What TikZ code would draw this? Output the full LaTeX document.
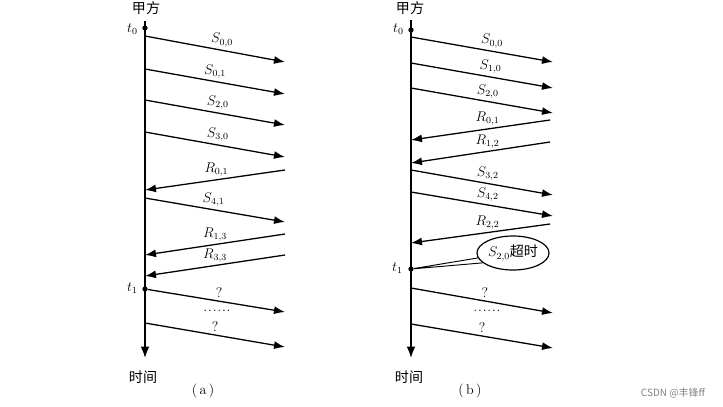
\documentclass[tikz,border=0pt]{standalone}
\usepackage{fontspec}
\newfontfamily\cjk{Noto Sans CJK SC}
\usetikzlibrary{arrows.meta,shapes.geometric}
\tikzset{
  msg/.style={line width=1.1pt, -{Latex[length=3.3mm,width=2.4mm]}},
  axis/.style={line width=1.3pt, -{Latex[length=3.4mm,width=2.6mm]}},
  lbl/.style={above=-1pt, font=\fontsize{12}{14}\selectfont},
  tick/.style={circle, fill, inner sep=0pt, minimum size=4.5pt},
  word/.style={font=\fontsize{12}{14}\selectfont\cjk},
  dotrow/.style={inner sep=0pt, font=\fontsize{12}{14}\selectfont},
}
\newcommand\sixdots{.\kern.7pt.\kern.7pt.\kern.7pt.\kern.7pt.\kern.7pt.}
\begin{document}
\begin{tikzpicture}[x=0.03cm,y=-0.03cm]
\useasboundingbox (0,0) rectangle (723,406);
% (a)
\coordinate (atop) at (145,21); \coordinate (abot) at (145,358);
\draw[axis] (atop)--(abot);
\node[tick] (at0) at (145,28) {};
\node[tick] (at1) at (145,289) {};
\node[lbl, left, inner sep=1pt] (lt0a) at (139,28) {$t_0$};
\node[lbl, left, inner sep=1pt] (lt1a) at (139,287) {$t_1$};
\node[word] (jfa) at (146,8) {甲方};
\node[word] (sja) at (143,377) {时间};
\node[font=\fontsize{12}{14}\selectfont] (capa) at (203,391) {(\,a\,)};
\coordinate (a1) at (145,36);  \coordinate (b1) at (285,62);
\coordinate (a2) at (145,69);  \coordinate (b2) at (285,94);
\coordinate (a3) at (145,100); \coordinate (b3) at (285,125);
\coordinate (a4) at (145,132); \coordinate (b4) at (285,157);
\coordinate (a5) at (285,170); \coordinate (b5) at (145,190);
\coordinate (a6) at (145,198); \coordinate (b6) at (285,222);
\coordinate (a7) at (285,234); \coordinate (b7) at (145,255);
\coordinate (a8) at (285,255); \coordinate (b8) at (145,276);
\coordinate (b9) at (285,312);
\coordinate (a10) at (145,323); \coordinate (b10) at (285,347);
\draw[msg] (a1)--node[lbl,pos=.55]{$S_{0,0}$}(b1);
\draw[msg] (a2)--node[lbl,pos=.5]{$S_{0,1}$}(b2);
\draw[msg] (a3)--node[lbl,pos=.52]{$S_{2,0}$}(b3);
\draw[msg] (a4)--node[lbl,pos=.52]{$S_{3,0}$}(b4);
\draw[msg] (a5)--node[lbl,pos=.49]{$R_{0,1}$}(b5);
\draw[msg] (a6)--node[lbl,pos=.49]{$S_{4,1}$}(b6);
\draw[msg] (a7)--node[lbl,pos=.5]{$R_{1,3}$}(b7);
\draw[msg] (a8)--node[lbl,pos=.5]{$R_{3,3}$}(b8);
\draw[msg] (at1)--node[lbl,pos=.52]{?}(b9);
\draw[msg] (a10)--node[lbl,pos=.5]{?}(b10);
\node[dotrow] (dta) at (217,311) {\sixdots};
% (b)
\coordinate (btop) at (411,20); \coordinate (bbot) at (411,358);
\draw[axis] (btop)--(bbot);
\node[tick] (bt0) at (411,30) {};
\node[tick] (bt1) at (411,269) {};
\node[lbl, left, inner sep=1pt] (lt0b) at (405,28) {$t_0$};
\node[lbl, left, inner sep=1pt] (lt1b) at (404,267) {$t_1$};
\node[word] (jfb) at (410,8) {甲方};
\node[word] (sjb) at (409,377) {时间};
\node[font=\fontsize{12}{14}\selectfont] (capb) at (470,391) {(\,b\,)};
\coordinate (c1) at (411,37);  \coordinate (d1) at (553,62);
\coordinate (c2) at (411,63);  \coordinate (d2) at (553,88);
\coordinate (c3) at (411,88);  \coordinate (d3) at (553,113);
\coordinate (c4) at (550,120); \coordinate (d4) at (411,140);
\coordinate (c5) at (550,142); \coordinate (d5) at (411,163);
\coordinate (c6) at (411,170); \coordinate (d6) at (553,195);
\coordinate (c7) at (411,192); \coordinate (d7) at (553,216);
\coordinate (c8) at (550,224); \coordinate (d8) at (411,243);
\coordinate (c9) at (411,288); \coordinate (d9) at (553,313);
\coordinate (c10) at (411,324); \coordinate (d10) at (553,348);
\draw[msg] (c1)--node[lbl,pos=.57]{$S_{0,0}$}(d1);
\draw[msg] (c2)--node[lbl,pos=.56]{$S_{1,0}$}(d2);
\draw[msg] (c3)--node[lbl,pos=.54]{$S_{2,0}$}(d3);
\draw[msg] (c4)--node[lbl,pos=.45]{$R_{0,1}$}(d4);
\draw[msg] (c5)--node[lbl,pos=.45]{$R_{1,2}$}(d5);
\draw[msg] (c6)--node[lbl,pos=.54]{$S_{3,2}$}(d6);
\draw[msg] (c7)--node[lbl,pos=.54]{$S_{4,2}$}(d7);
\draw[msg] (c8)--node[lbl,pos=.45]{$R_{2,2}$}(d8);
\draw[msg] (c9)--node[lbl,pos=.52]{?}(d9);
\draw[msg] (c10)--node[lbl,pos=.5]{?}(d10);
\node[dotrow] (dtb) at (487,311) {\sixdots};
% timeout callout
\node[ellipse, draw, line width=1pt, fill=white, minimum width=2.16cm, minimum height=1.02cm, inner sep=0pt,
  font=\fontsize{12}{14}\selectfont] (tmo) at (513,253) {$S_{2,0}$\cjk 超时};
\draw[line width=0.8pt] (tmo.188)--(bt1)--(tmo.198);
% watermark
\node[font=\fontsize{8.5}{10}\selectfont\cjk, text=gray] (wm) at (673,393) {CSDN @丰锋ff};
\end{tikzpicture}
\end{document}
